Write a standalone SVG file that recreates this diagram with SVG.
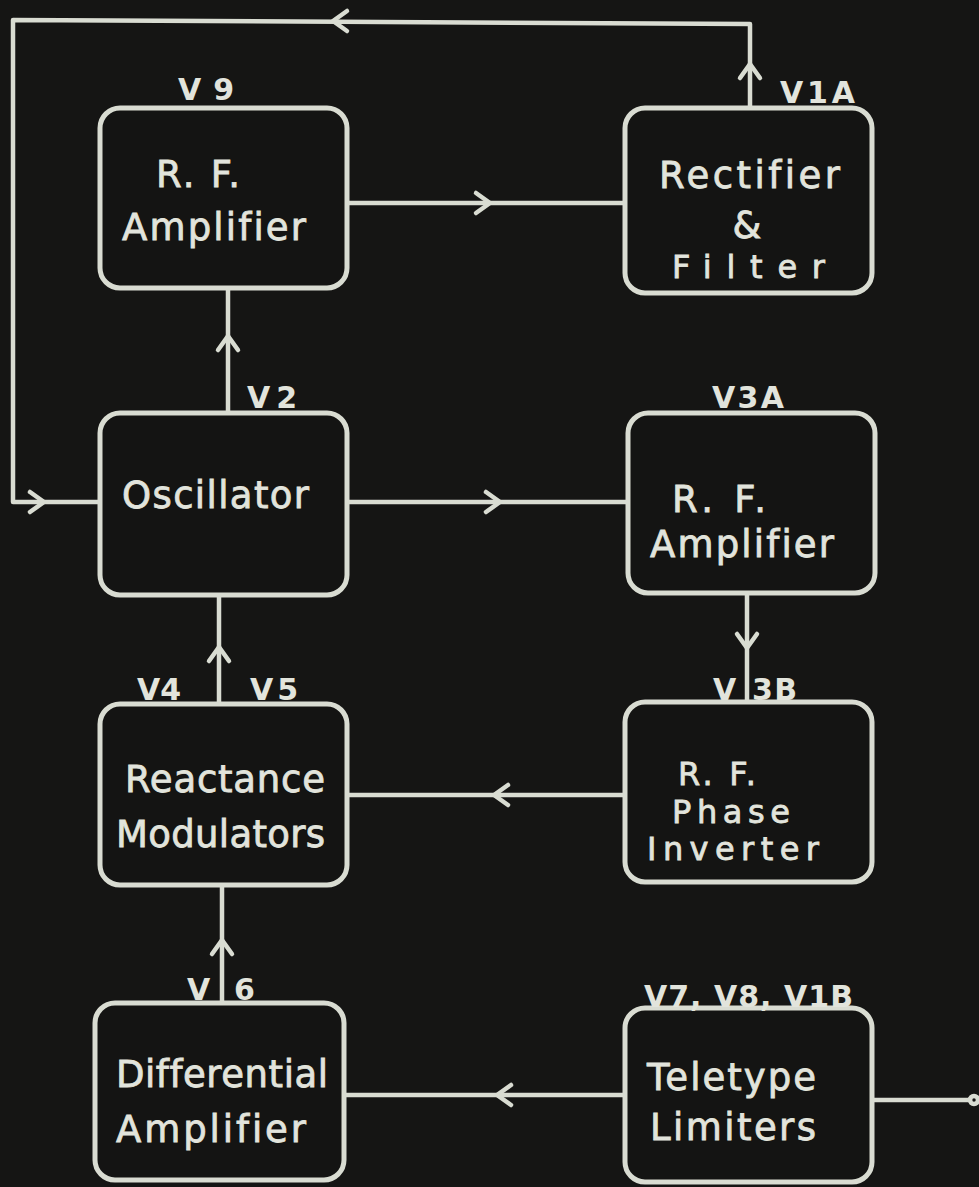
<svg xmlns="http://www.w3.org/2000/svg" width="979" height="1187" viewBox="0 0 979 1187">
<defs>
<style>
.bg{fill:#151514}
.box{fill:#141413;stroke:#d9dcd2;stroke-width:5}
.ln{fill:none;stroke:#d9dcd2;stroke-width:4.5;stroke-linecap:round;stroke-linejoin:round}
.t{fill:#e2e4dc;stroke:#e2e4dc;stroke-width:0.8;font-family:"DejaVu Sans","Liberation Sans",sans-serif;font-size:37px;font-variant-ligatures:none}
.ts{font-size:32px}
.lb{fill:#e2e4dc;font-family:"DejaVu Sans","Liberation Sans",sans-serif;font-size:30px;font-weight:bold;font-variant-ligatures:none}
</style>
<path id="chev" d="M-14,-10 L0,0 L-14,10" class="ln"/>
</defs>
<rect class="bg" x="0" y="0" width="979" height="1187"/>

<g id="connectors">
<path class="ln" d="M750,108 L750,24 L13,20 L13,502 L100,502"/>
<use href="#chev" transform="translate(750,64) rotate(-90)"/>
<use href="#chev" transform="translate(333,21) rotate(180)"/>
<use href="#chev" transform="translate(44,502)"/>
<path class="ln" d="M347,203 L625,203"/>
<use href="#chev" transform="translate(490,203)"/>
<path class="ln" d="M228,413 L228,288"/>
<use href="#chev" transform="translate(228,336) rotate(-90)"/>
<path class="ln" d="M347,502 L628,502"/>
<use href="#chev" transform="translate(500,502)"/>
<path class="ln" d="M747,593 L747,702"/>
<use href="#chev" transform="translate(747,648) rotate(90)"/>
<path class="ln" d="M625,795 L347,795"/>
<use href="#chev" transform="translate(494,795) rotate(180)"/>
<path class="ln" d="M219,704 L219,593"/>
<use href="#chev" transform="translate(219,647) rotate(-90)"/>
<path class="ln" d="M222,1003 L222,885"/>
<use href="#chev" transform="translate(222,940) rotate(-90)"/>
<path class="ln" d="M625,1095 L344,1095"/>
<use href="#chev" transform="translate(497,1095) rotate(180)"/>
<path class="ln" d="M872,1100 L970,1100"/>
<circle cx="974" cy="1100" r="4" class="ln"/>
</g>

<g id="rf-amp-v9">
<rect class="box" x="100" y="108" width="247" height="180" rx="20"/>
<text class="lb" x="178" y="100" textLength="56" lengthAdjust="spacing">V9</text>
<text class="t" x="156" y="187" textLength="84" lengthAdjust="spacing">R. F.</text>
<text class="t" x="122" y="240" textLength="184" lengthAdjust="spacing">Amplifier</text>
</g>

<g id="rectifier-filter">
<rect class="box" x="625" y="108" width="247" height="185" rx="20"/>
<text class="lb" x="780" y="103" textLength="75" lengthAdjust="spacing">V1A</text>
<text class="t" x="659" y="188" textLength="181" lengthAdjust="spacing">Rectifier</text>
<text class="t" x="747" y="238" text-anchor="middle" font-size="28">&amp;</text>
<text class="t ts" x="672" y="278" textLength="153" lengthAdjust="spacing">Filter</text>
</g>

<g id="oscillator">
<rect class="box" x="100" y="413" width="247" height="182" rx="20"/>
<text class="lb" x="247" y="408" textLength="50" lengthAdjust="spacing">V2</text>
<text class="t" x="122" y="508" textLength="187" lengthAdjust="spacing">Oscillator</text>
</g>

<g id="rf-amp-v3a">
<rect class="box" x="628" y="413" width="247" height="180" rx="20"/>
<text class="lb" x="712" y="408" textLength="72" lengthAdjust="spacing">V3A</text>
<text class="t" x="672" y="512" textLength="94" lengthAdjust="spacing">R. F.</text>
<text class="t" x="650" y="557" textLength="184" lengthAdjust="spacing">Amplifier</text>
</g>

<g id="reactance-modulators">
<rect class="box" x="100" y="704" width="247" height="181" rx="20"/>
<text class="lb" x="137" y="700" textLength="44" lengthAdjust="spacing">V4</text>
<text class="lb" x="250" y="700" textLength="48" lengthAdjust="spacing">V5</text>
<text class="t" x="125" y="792" textLength="200" lengthAdjust="spacing">Reactance</text>
<text class="t" x="116" y="847" textLength="209" lengthAdjust="spacing">Modulators</text>
</g>

<g id="rf-phase-inverter">
<rect class="box" x="625" y="702" width="247" height="180" rx="20"/>
<text class="lb" x="713" y="700">V</text>
<text class="lb" x="752" y="700" textLength="45" lengthAdjust="spacing">3B</text>
<text class="t ts" x="678" y="785" textLength="78" lengthAdjust="spacing">R. F.</text>
<text class="t ts" x="672" y="823" textLength="118" lengthAdjust="spacing">Phase</text>
<text class="t ts" x="647" y="860" textLength="172" lengthAdjust="spacing">Inverter</text>
</g>

<g id="differential-amplifier">
<rect class="box" x="95" y="1003" width="249" height="177" rx="20"/>
<text class="lb" x="187" y="1000">V</text>
<text class="lb" x="234" y="1000">6</text>
<text class="t" x="116" y="1087" textLength="212" lengthAdjust="spacing">Differential</text>
<text class="t" x="116" y="1142" textLength="190" lengthAdjust="spacing">Amplifier</text>
</g>

<g id="teletype-limiters">
<rect class="box" x="625" y="1008" width="247" height="174" rx="20"/>
<text class="lb" x="644" y="1007" textLength="209" lengthAdjust="spacing">V7, V8, V1B</text>
<text class="t" x="647" y="1090" textLength="169" lengthAdjust="spacing">Teletype</text>
<text class="t" x="650" y="1140" textLength="166" lengthAdjust="spacing">Limiters</text>
</g>
</svg>
